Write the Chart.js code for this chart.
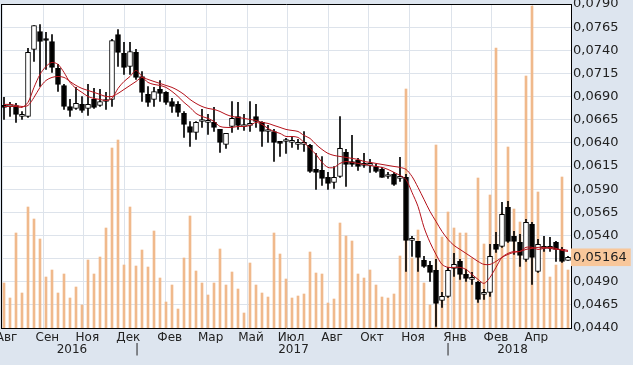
<!DOCTYPE html>
<html><head><meta charset="utf-8">
<script src="https://cdn.jsdelivr.net/npm/chart.js@4"></script>
<style>html,body{margin:0;padding:0;background:#dde5ef;overflow:hidden}</style>
</head><body>
<canvas id="c" width="633" height="365"></canvas>
<script>
// ---- data (weekly candles) ----
const opens=[.06793,.06793,.06804,.06685,.06685,.07409,.07603,.07517,.07495,.07204,
.07020,.06793,.06772,.06815,.06772,.06869,.06804,.06847,.06869,.07571,
.07366,.07225,.07377,.07117,.06923,.06869,.06977,.06945,.06847,.06815,
.06718,.06577,.06513,.06631,.06621,.06621,.06545,.06383,.06577,.06685,
.06577,.06588,.06685,.06621,.06523,.06523,.06405,.06415,.06405,.06383,
.06383,.06372,.06113,.06102,.06027,.05973,.06037,.06297,.06199,.06210,
.06156,.06156,.06145,.06113,.06037,.06059,.06016,.06027,.05346,.05335,
.05130,.05076,.05022,.04698,.04741,.05044,.05119,.04979,.04925,.04893,
.04763,.04785,.05303,.05281,.05703,.05389,.05325,.05141,.05519,.05011,
.05260,.05260,.05325,.05249,.05130];
const highs=[.06891,.06837,.06826,.06739,.07420,.07668,.07679,.07593,.07571,.07247,
.07031,.06869,.06999,.06901,.07031,.06988,.06977,.06945,.07517,.07625,
.07485,.07485,.07409,.07171,.07009,.06999,.07074,.06955,.06880,.06847,
.06739,.06631,.06631,.06761,.06707,.06783,.06545,.06502,.06847,.06837,
.06707,.06847,.06815,.06631,.06588,.06545,.06415,.06448,.06469,.06437,
.06523,.06383,.06286,.06253,.06081,.06145,.06685,.06329,.06480,.06232,
.06286,.06221,.06167,.06135,.06081,.06081,.06243,.06059,.05389,.05335,
.05173,.05119,.05141,.04785,.05055,.05206,.05141,.05033,.05001,.04903,
.04817,.05303,.05433,.05757,.05767,.05443,.05411,.05573,.05541,.05357,
.05389,.05379,.05335,.05271,.05173];
const lows=[.06653,.06685,.06621,.06653,.06675,.07279,.07009,.07193,.07161,.06955,
.06761,.06685,.06761,.06729,.06696,.06772,.06793,.06761,.06793,.07225,
.07139,.07139,.07085,.06847,.06793,.06793,.06847,.06815,.06729,.06685,
.06459,.06361,.06437,.06567,.06491,.06523,.06297,.06340,.06513,.06545,
.06534,.06523,.06567,.06361,.06405,.06199,.06253,.06286,.06351,.06329,
.06307,.06081,.05897,.05940,.05897,.05908,.06027,.05929,.06145,.06102,
.06135,.06081,.06081,.06027,.06016,.05940,.05983,.05011,.05173,.05011,
.05055,.04903,.04417,.04623,.04731,.04957,.04925,.04903,.04871,.04677,
.04709,.04741,.05217,.05271,.05325,.05195,.05065,.05119,.04871,.05001,
.05227,.05227,.05119,.05109,.05130];
const closes=[.06783,.06793,.06707,.06707,.07377,.07668,.07495,.07506,.07215,.07031,
.06793,.06750,.06826,.06750,.06815,.06783,.06847,.06847,.07506,.07377,
.07215,.07387,.07107,.06945,.06837,.06955,.06934,.06837,.06793,.06729,
.06599,.06513,.06621,.06631,.06621,.06567,.06405,.06502,.06664,.06588,
.06577,.06588,.06631,.06523,.06523,.06405,.06394,.06415,.06405,.06383,
.06383,.06091,.06081,.06016,.05962,.06027,.06340,.06167,.06167,.06145,
.06156,.06156,.06091,.06027,.06037,.05951,.06016,.05346,.05346,.05163,
.05065,.05001,.04666,.04741,.05022,.05087,.04979,.04936,.04925,.04709,
.04763,.05173,.05249,.05627,.05335,.05335,.05184,.05541,.05163,.05303,
.05260,.05260,.05249,.05119,.05164];
const volumes=[45,30,95,35,121,109,89,51,58,35,
54,30,41,23,68,54,71,100,180,188,
63,121,62,78,61,97,50,26,43,19,
70,112,57,45,33,45,79,43,56,39,
15,65,43,35,31,95,74,49,30,32,
34,76,55,54,25,29,105,92,87,54,
50,58,43,31,30,34,72,239,70,98,
45,23,183,91,116,100,95,95,70,150,
84,133,280,115,181,119,106,252,322,136,
78,51,63,151,58];
const maFast=[.06793,.06793,.06793,.06783,.06837,.06999,.07139,.07225,.07269,.07247,
.07161,.07053,.06988,.06945,.06901,.06880,.06869,.06858,.06880,.06988,
.07063,.07117,.07182,.07117,.07053,.07031,.07020,.06999,.06955,.06901,
.06837,.06783,.06718,.06685,.06664,.06631,.06577,.06567,.06567,.06577,
.06577,.06588,.06621,.06599,.06556,.06523,.06502,.06469,.06469,.06459,
.06405,.06340,.06275,.06189,.06135,.06135,.06178,.06199,.06189,.06178,
.06167,.06156,.06145,.06135,.06113,.06081,.06048,.06005,.05865,.05713,
.05487,.05325,.05195,.05087,.05055,.05055,.05055,.05033,.04979,.04925,
.04882,.04947,.05055,.05163,.05206,.05227,.05227,.05271,.05271,.05249,
.05260,.05271,.05260,.05238,.05227];
const maSlow=[.06815,.06815,.06804,.06793,.06804,.06891,.06999,.07074,.07107,.07117,
.07107,.07063,.07020,.06988,.06966,.06945,.06923,.06901,.06901,.06934,
.06977,.07020,.07063,.07107,.07085,.07063,.07042,.07020,.06999,.06966,
.06923,.06869,.06826,.06793,.06772,.06761,.06739,.06707,.06685,.06675,
.06664,.06653,.06642,.06621,.06610,.06588,.06567,.06545,.06534,.06523,
.06480,.06448,.06383,.06329,.06286,.06264,.06253,.06243,.06232,.06221,
.06199,.06189,.06178,.06167,.06156,.06145,.06135,.06113,.06037,.05919,
.05789,.05659,.05551,.05443,.05357,.05292,.05249,.05206,.05163,.05119,
.05087,.05087,.05119,.05163,.05195,.05217,.05227,.05249,.05260,.05271,
.05271,.05260,.05249,.05249,.05238];
const lastPrice=0.05164;
// tick labels
const yTicks=[0.0440,0.0465,0.0490,0.0515,0.0540,0.0565,0.0590,0.0615,0.0640,0.0665,0.0690,0.0715,0.0740,0.0765,0.0790];
const hiddenYTick=0.0515;
const monthLabels=['Авг','Сен','Ноя','Дек','Фев','Мар','Май','Июл','Авг','Окт','Ноя','Янв','Фев','Апр'];
const monthPos=[-0.25,6.55,13.22,20.05,26.95,33.78,40.5,47.17,54.0,60.67,67.5,74.5,81.33,88.05];
const yearLabels=['2016','|','2017','|','2018'];
const yearPos=[11.33,22.17,48.25,74.0,84.75];
// categories: weeks starting 29.07.2016
const weeks=[];
{const d0=new Date(2016,6,29);for(let i=0;i<opens.length;i++){const d=new Date(d0.getTime()+i*7*86400000);weeks.push(d.toLocaleDateString('ru-RU'));}}

const FONT={family:'DejaVu Sans',size:12};
const YFONT={family:'DejaVu Sans',size:13};
const GRID='#dde3eb';
const near=(a,b)=>Math.abs(a-b)<1e-7;
const noPadX=s=>{s.paddingLeft=0;s.paddingRight=0;};

const bgPlugin={id:'bg',beforeDraw(c){const {ctx,chartArea:a}=c;ctx.save();ctx.fillStyle='#dde5ef';ctx.fillRect(0,0,c.width,c.height);ctx.fillStyle='#ffffff';ctx.fillRect(a.left,a.top,a.right-a.left,a.bottom-a.top);ctx.restore();}};

new Chart(document.getElementById('c'),{
  data:{labels:weeks,datasets:[
    {type:'line',label:'MA1',data:maFast,borderColor:'#b5121b',borderWidth:1,pointRadius:0,tension:0.3,yAxisID:'y',xAxisID:'x',order:0},
    {type:'line',label:'MA2',data:maSlow,borderColor:'#b5121b',borderWidth:1,pointRadius:0,tension:0.3,yAxisID:'y',xAxisID:'x',order:0},
    {type:'bar',label:'body',data:opens.map((o,i)=>[o,closes[i]]),backgroundColor:closes.map((c,i)=>c>=opens[i]?'#ffffff':'#000000'),borderColor:'#000',borderWidth:1,borderSkipped:false,barThickness:5,minBarLength:2,grouped:false,yAxisID:'y',xAxisID:'x',order:1},
    {type:'bar',label:'wick',data:lows.map((l,i)=>[l,highs[i]]),backgroundColor:'#000',barThickness:1,grouped:false,yAxisID:'y',xAxisID:'x',order:2},
    {type:'bar',label:'vol',data:volumes,backgroundColor:'#f0b98c',barThickness:2,grouped:false,yAxisID:'yv',xAxisID:'x',order:3}
  ]},
  options:{
    responsive:false,animation:false,
    layout:{padding:0},
    plugins:{legend:{display:false},tooltip:{enabled:false}},
    scales:{
      x:{type:'category',display:false,offset:true,afterFit:noPadX},
      xt:{type:'category',position:'top',display:true,ticks:{display:false},grid:{display:false,drawTicks:false},border:{display:true,color:'#000',width:1},afterFit:s=>{s.height=4;noPadX(s);}},
      xm:{type:'linear',position:'bottom',weight:1,min:-0.5,max:94.5,
        afterBuildTicks:s=>{s.ticks=monthPos.map(v=>({value:v}));},
        ticks:{autoSkip:false,maxRotation:0,callback:(v,i)=>monthLabels[i],font:FONT,color:'#222',padding:3,labelOffset:4},
        grid:{color:GRID,drawTicks:false,drawOnChartArea:true},border:{display:true,color:'#000'},
        afterFit:s=>{s.height=15;noPadX(s);}},
      xy:{type:'linear',position:'bottom',weight:2,min:-0.5,max:94.5,
        afterBuildTicks:s=>{s.ticks=yearPos.map(v=>({value:v}));},
        ticks:{autoSkip:false,maxRotation:0,callback:(v,i)=>yearLabels[i],font:FONT,color:'#222',padding:0},
        grid:{display:false,drawTicks:false},border:{display:false},
        afterFit:s=>{s.height=22;noPadX(s);}},
      yl:{type:'linear',position:'left',display:true,ticks:{display:false},grid:{display:false,drawTicks:false},border:{display:true,color:'#000'},afterFit:s=>{s.width=1;s.paddingTop=0;s.paddingBottom=0;}},
      y:{type:'linear',position:'right',min:0.044,max:0.079,
        afterBuildTicks:s=>{s.ticks=yTicks.concat([lastPrice]).map(v=>({value:v}));},
        ticks:{autoSkip:false,crossAlign:'near',padding:2,font:YFONT,color:'#222',
          callback:v=>near(v,hiddenYTick)?'':(near(v,lastPrice)?v.toFixed(5):v.toFixed(4)).replace('.',','),
          showLabelBackdrop:ctx=>!!(ctx.tick&&near(ctx.tick.value,lastPrice)),
          backdropColor:'#f8c79b',backdropPadding:{left:3,right:4,top:1,bottom:1}},
        grid:{color:ctx=>(ctx.tick&&near(ctx.tick.value,lastPrice))?'rgba(0,0,0,0)':GRID,drawTicks:false},
        border:{display:true,color:'#000'},
        afterFit:s=>{s.width=62;s.paddingTop=0;s.paddingBottom=0;}},
      yv:{type:'linear',display:false,min:0,max:324}
    }
  },
  plugins:[bgPlugin]
});
</script>
</body></html>
